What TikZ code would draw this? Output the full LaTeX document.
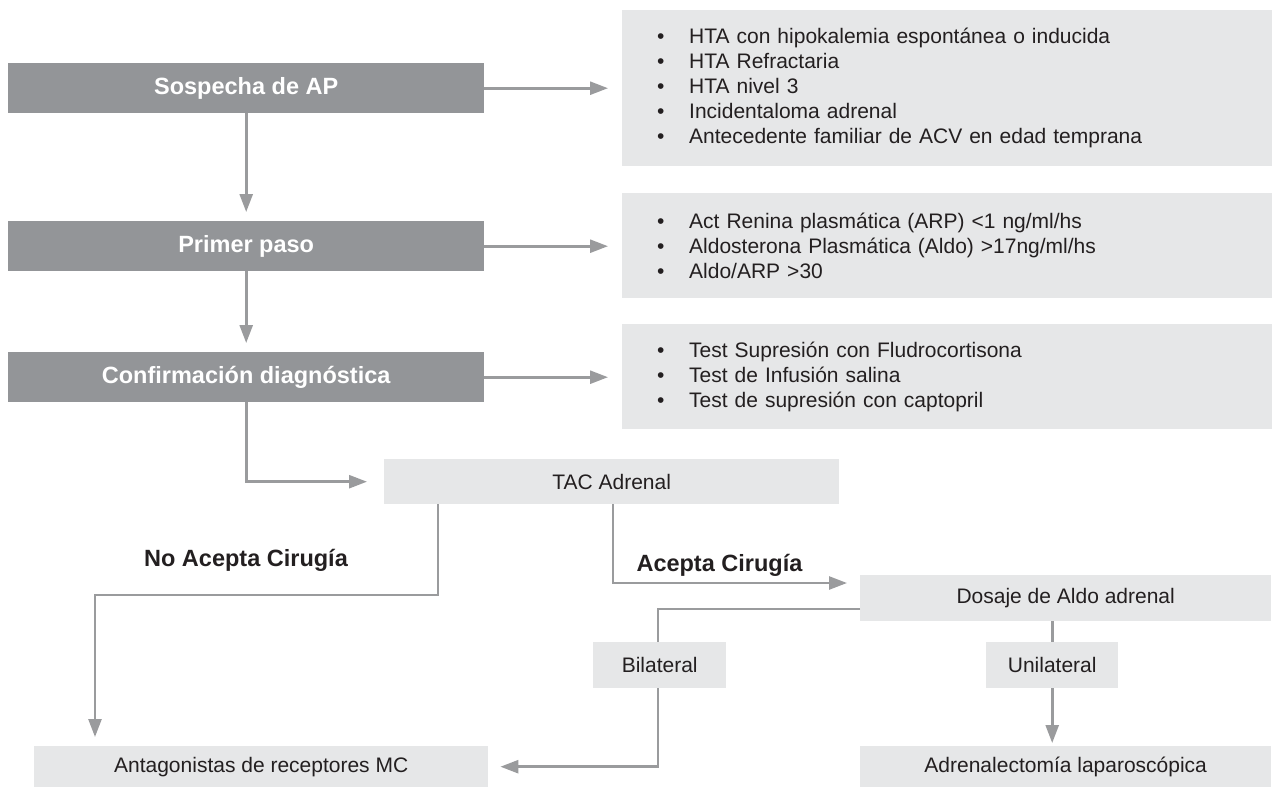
\documentclass[tikz,border=0pt]{standalone}
\usepackage{fontspec}
\setmainfont{Liberation Sans}
\usetikzlibrary{arrows.meta}
\definecolor{dboxc}{HTML}{939598}
\definecolor{lboxc}{HTML}{E6E7E8}
\definecolor{connc}{HTML}{9A9B9D}
\definecolor{txtc}{HTML}{231F20}
\newcommand\itm[1]{\makebox[32pt][l]{\textbullet}#1}
\begin{document}
\begin{tikzpicture}[x=1pt,y=-1pt,
 darkbox/.style={fill=dboxc, text=white, font=\fontsize{23.5}{28}\selectfont\bfseries, minimum width=476pt, minimum height=50pt, inner sep=0pt, anchor=north west},
 lightbox/.style={fill=lboxc, text=txtc, font=\fontsize{21}{25}\selectfont, inner sep=0pt, anchor=north west},
 listbox/.style={fill=lboxc, text=txtc, font=\fontsize{21}{25}\selectfont, inner xsep=35pt, inner ysep=0pt, text width=580pt, minimum height=#1, align=left, anchor=north west},
 connline/.style={draw=connc, line width=2.6pt},
 arr/.style={connline, -{Triangle[length=18pt,width=13pt]}},
 lbl/.style={text=txtc, font=\fontsize{23.5}{28}\selectfont\bfseries}
]
\useasboundingbox (0,0) rectangle (1274,787);

% left column
\node[darkbox] (sos) at (8,63) {Sospecha de AP};
\node[darkbox] (pp) at (8,221) {Primer paso};
\node[darkbox] (conf) at (8,352) {Confirmación diagnóstica};

% right lists
\node[listbox=156pt] (l1) at (622,10) {\itm{HTA con hipokalemia espontánea o inducida}\\
\itm{HTA Refractaria}\\
\itm{HTA nivel 3}\\
\itm{Incidentaloma adrenal}\\
\itm{Antecedente familiar de ACV en edad temprana}};
\node[listbox=105pt] (l2) at (622,193) {\itm{Act Renina plasmática (ARP) <1 ng/ml/hs}\\
\itm{Aldosterona Plasmática (Aldo) >17ng/ml/hs}\\
\itm{Aldo/ARP >30}};
\node[listbox=105pt] (l3) at (622,324) {\itm{Test Supresión con Fludrocortisona}\\
\itm{Test de Infusión salina}\\
\itm{Test de supresión con captopril}};

% lower boxes
\node[lightbox, minimum width=455pt, minimum height=45pt] (tac) at (384,459) {TAC Adrenal};
\node[lightbox, minimum width=411pt, minimum height=46pt] (dos) at (860,575) {Dosaje de Aldo adrenal};
\node[lightbox, minimum width=133pt, minimum height=46pt] (bil) at (593,642) {Bilateral};
\node[lightbox, minimum width=132pt, minimum height=46pt] (uni) at (986,642) {Unilateral};
\node[lightbox, minimum width=454pt, minimum height=41pt] (ant) at (34,746) {Antagonistas de receptores MC};
\node[lightbox, minimum width=411pt, minimum height=41pt] (adr) at (860,746) {Adrenalectomía laparoscópica};

% labels
\node[lbl] (nac) at (246,560) {No Acepta Cirugía};
\node[lbl, anchor=west] (acc) at (633,565) {Acepta Cirugía};

% connectors
\draw[arr, shorten >=14pt] (sos.east) -- (sos.east -| l1.west);
\draw[arr, shorten >=14pt] (pp.east) -- (pp.east -| l2.west);
\draw[arr, shorten >=14pt] (conf.east) -- (conf.east -| l3.west);
\draw[arr, shorten >=9pt] (sos.south) -- (pp.north);
\draw[arr, shorten >=9pt] (pp.south) -- (conf.north);
\draw[arr, shorten >=17pt] (conf.south) |- (tac.west);

\coordinate (na1) at (438,595);
\coordinate (na2) at (95,595);
\draw[arr, shorten >=9pt] (tac.south -| na1) -- (na1) -- (na2) -- (na2 |- ant.north);

\coordinate (ac) at (613,583);
\draw[arr, shorten >=13pt] (tac.south -| ac) |- (ac -| dos.west);

\coordinate (bl) at (658,609);
\draw[connline] (dos.west |- bl) -- (bl) -- (bl |- bil.north);
\draw[arr, shorten >=12pt] (bil.south -| bl) |- (ant.east);

\draw[connline] (uni.north |- dos.south) -- (uni.north);
\draw[arr, shorten >=3pt] (uni.south) -- (uni.south |- adr.north);
\end{tikzpicture}
\end{document}
